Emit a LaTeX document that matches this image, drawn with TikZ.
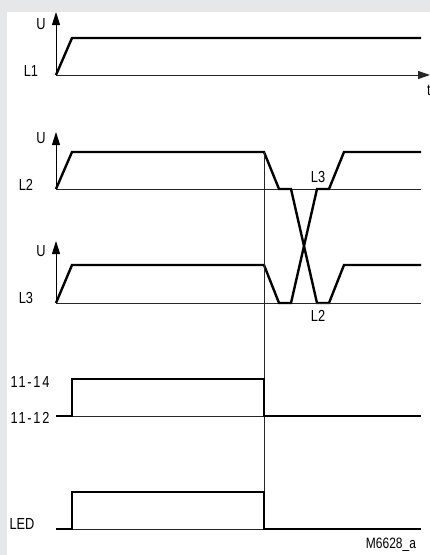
\documentclass[tikz,border=0pt]{standalone}
\usepackage{fontspec}
\setmainfont{Liberation Sans}[FakeStretch=0.8]
\newfontfamily\numfont{Liberation Sans}[FakeStretch=0.8, LetterSpace=11]
\usetikzlibrary{arrows.meta}
\definecolor{framegray}{HTML}{E6E7E9}
\tikzset{
  sig/.style={line width=2.4pt, line join=miter, line cap=butt},
  base/.style={line width=1pt, color=black!85},
  axis/.style={line width=1pt, -{Triangle[length=13pt,width=8pt]}},
  lbl/.style={inner sep=0pt, font=\fontsize{16}{16}\selectfont},
  numlbl/.style={inner sep=0pt, font=\fontsize{16}{16}\selectfont\numfont},
}
\begin{document}
\begin{tikzpicture}[x=1pt,y=-1pt]
\useasboundingbox (0,0) rectangle (430,555);
\fill[framegray] (0,0) rectangle (430,555);
\fill[white] (7,12) rectangle (430,555);

% L1
\draw[axis] (56,75) -- (56,12);
\draw[base,-{Triangle[length=12pt,width=8pt]}] (56,75) -- (430,75);
\draw[sig] (56,75) -- (72,38) -- (421,38);
\node[lbl] (u1) at (41,24) {U};
\node[lbl] (l1) at (31,71) {L1};
\node[lbl] (t) at (429,90) {t};

% L2
\draw[axis] (56,189) -- (56,132);
\draw[base] (56,189) -- (421,189);
\draw[sig] (56,189) -- (72,152) -- (264,152) -- (279,189) -- (291,189) -- (317,303) -- (329,303) -- (344,265) -- (421,265);
\node[lbl] (u2) at (41,138) {U};
\node[lbl] (l2) at (26,185) {L2};

% L3
\draw[axis] (56,303) -- (56,241);
\draw[base] (56,303) -- (421,303);
\draw[sig] (56,303) -- (72,265) -- (264,265) -- (279,303) -- (291,303) -- (317,189) -- (329,189) -- (344,152) -- (421,152);
\node[lbl] (u3) at (41,251) {U};
\node[lbl] (l3) at (26,298) {L3};
\node[lbl] (x3) at (318,177) {L3};
\node[lbl] (x2) at (318,316) {L2};

% vertical marker
\draw[base] (264,152) -- (264,529);

% 11-14 / 11-12
\draw[base] (72,416) -- (421,416);
\draw[sig] (56,416) -- (72,416) -- (72,379) -- (264,379) -- (264,416) -- (421,416);
\node[numlbl] (c14) at (30,382) {11-14};
\node[numlbl] (c12) at (30,418) {11-12};

% LED
\draw[base] (72,529) -- (421,529);
\draw[sig] (56,529) -- (72,529) -- (72,492) -- (264,492) -- (264,529) -- (421,529);
\node[lbl] (led) at (22,524) {LED};

\node[inner sep=0pt, font=\fontsize{15}{15}\selectfont] (ref) at (391,545) {M6628\_a};
\end{tikzpicture}
\end{document}
